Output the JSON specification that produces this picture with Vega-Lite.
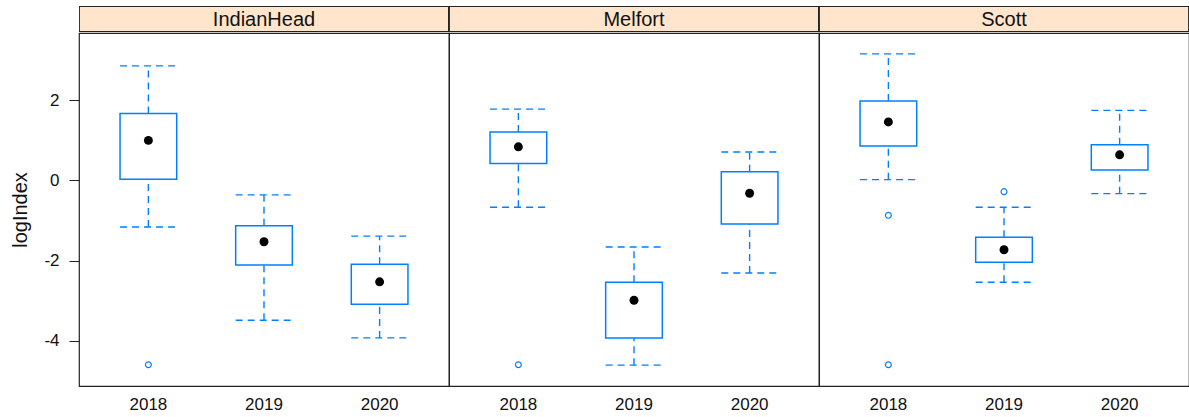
{
  "$schema": "https://vega.github.io/schema/vega-lite/v6.json",
  "padding": {"left": 10, "top": 6, "right": 0, "bottom": 0},
  "background": "white",
  "spacing": 0,
  "config": {
    "font": "Liberation Sans",
    "view": {"stroke": "#222222", "strokeWidth": 1.2},
    "axis": {"grid": false}
  },
  "datasets": {
    "sites": [
      {"site": "IndianHead"},
      {"site": "Melfort"},
      {"site": "Scott"}
    ],
    "boxes": [
      {"site": "IndianHead", "year": "2018", "lo": -1.16, "q1": 0.03, "med": 1.00, "q3": 1.67, "hi": 2.86},
      {"site": "IndianHead", "year": "2019", "lo": -3.49, "q1": -2.11, "med": -1.53, "q3": -1.13, "hi": -0.36},
      {"site": "IndianHead", "year": "2020", "lo": -3.93, "q1": -3.09, "med": -2.53, "q3": -2.09, "hi": -1.39},
      {"site": "Melfort", "year": "2018", "lo": -0.67, "q1": 0.42, "med": 0.84, "q3": 1.21, "hi": 1.78},
      {"site": "Melfort", "year": "2019", "lo": -4.61, "q1": -3.93, "med": -2.99, "q3": -2.54, "hi": -1.66},
      {"site": "Melfort", "year": "2020", "lo": -2.31, "q1": -1.09, "med": -0.32, "q3": 0.22, "hi": 0.71},
      {"site": "Scott", "year": "2018", "lo": 0.02, "q1": 0.86, "med": 1.46, "q3": 1.98, "hi": 3.16},
      {"site": "Scott", "year": "2019", "lo": -2.54, "q1": -2.04, "med": -1.73, "q3": -1.42, "hi": -0.67},
      {"site": "Scott", "year": "2020", "lo": -0.33, "q1": 0.26, "med": 0.64, "q3": 0.89, "hi": 1.75},
      {"site": "IndianHead", "year": "2018", "outlier": -4.60},
      {"site": "Melfort", "year": "2018", "outlier": -4.60},
      {"site": "Scott", "year": "2018", "outlier": -0.87},
      {"site": "Scott", "year": "2018", "outlier": -4.60},
      {"site": "Scott", "year": "2019", "outlier": -0.28}
    ]
  },
  "vconcat": [
    {
      "data": {"name": "sites"},
      "width": 1110,
      "height": 26,
      "view": {"stroke": null},
      "layer": [
        {
          "mark": {"type": "rect", "fill": "#ffe5cc", "stroke": "#222222", "strokeWidth": 1.8, "clip": true},
          "encoding": {
            "x": {"field": "site", "type": "nominal", "scale": {"type": "band", "paddingInner": 0, "paddingOuter": 0}, "axis": null}
          }
        },
        {
          "mark": {"type": "text", "fontSize": 20, "color": "#111111", "baseline": "middle", "dy": 1},
          "encoding": {
            "x": {"field": "site", "type": "nominal", "axis": null},
            "y": {"datum": 0.5, "type": "quantitative", "scale": {"domain": [0, 1]},
                  "axis": {"labels": false, "ticks": false, "domain": false, "grid": false, "title": "l", "titleFontSize": 20, "titleFontWeight": "normal", "titleOpacity": 0, "titlePadding": 4, "minExtent": 45, "maxExtent": 45}},
            "text": {"field": "site"}
          }
        }
      ]
    },
    {
      "data": {"name": "boxes"},
      "facet": {"column": {"field": "site", "type": "nominal", "header": {"labels": false, "title": null, "labelPadding": 0}}},
      "spacing": 0,
      "bounds": "flush",
      "spec": {
        "width": 370,
        "height": 353,
        "encoding": {
          "x": {"field": "year", "type": "nominal", "scale": {"type": "band", "paddingInner": 0.51, "paddingOuter": 0.355},
                "axis": {"title": null, "labelAngle": 0, "ticks": false, "domain": false, "labelFontSize": 17, "labelColor": "#111111", "labelPadding": 10}}
        },
        "layer": [
          {
            "transform": [{"filter": "datum.med != null"}],
            "mark": {"type": "rule", "color": "#0080ff", "strokeWidth": 1.4, "strokeDash": [7, 5]},
            "encoding": {
              "y": {"field": "q3", "type": "quantitative",
                    "scale": {"domain": [-5.13, 3.68], "nice": false, "zero": false},
                    "axis": {"values": [-4, -2, 0, 2], "labelExpr": "'' + datum.value", "tickSize": 10, "tickColor": "#222222", "labelPadding": 10, "labelFontSize": 17, "labelColor": "#111111", "domain": false, "title": "logIndex", "titleFontSize": 20, "titleFontWeight": "normal", "titleColor": "#111111", "titlePadding": 4, "minExtent": 45, "maxExtent": 45}},
              "y2": {"field": "hi"}
            }
          },
          {
            "transform": [{"filter": "datum.med != null"}],
            "mark": {"type": "rule", "color": "#0080ff", "strokeWidth": 1.4, "strokeDash": [7, 5]},
            "encoding": {
              "y": {"field": "lo", "type": "quantitative"},
              "y2": {"field": "q1"}
            }
          },
          {
            "transform": [{"filter": "datum.med != null"}],
            "mark": {"type": "rule", "color": "#0080ff", "strokeWidth": 1.4, "strokeDash": [7, 5]},
            "encoding": {
              "x": {"field": "year", "type": "nominal", "bandPosition": 0},
              "x2": {"field": "year", "bandPosition": 1},
              "y": {"field": "hi", "type": "quantitative"}
            }
          },
          {
            "transform": [{"filter": "datum.med != null"}],
            "mark": {"type": "rule", "color": "#0080ff", "strokeWidth": 1.4, "strokeDash": [7, 5]},
            "encoding": {
              "x": {"field": "year", "type": "nominal", "bandPosition": 0},
              "x2": {"field": "year", "bandPosition": 1},
              "y": {"field": "lo", "type": "quantitative"}
            }
          },
          {
            "transform": [{"filter": "datum.med != null"}],
            "mark": {"type": "bar", "fill": "white", "stroke": "#0080ff", "strokeWidth": 1.5},
            "encoding": {
              "y": {"field": "q1", "type": "quantitative"},
              "y2": {"field": "q3"}
            }
          },
          {
            "transform": [{"filter": "datum.med != null"}],
            "mark": {"type": "point", "shape": "circle", "filled": true, "color": "black", "size": 80, "opacity": 1},
            "encoding": {
              "y": {"field": "med", "type": "quantitative"}
            }
          },
          {
            "transform": [{"filter": "datum.outlier != null"}],
            "mark": {"type": "point", "shape": "circle", "filled": false, "color": "#0080ff", "size": 35, "strokeWidth": 1.2, "opacity": 1},
            "encoding": {
              "y": {"field": "outlier", "type": "quantitative"}
            }
          }
        ]
      }
    }
  ]
}
